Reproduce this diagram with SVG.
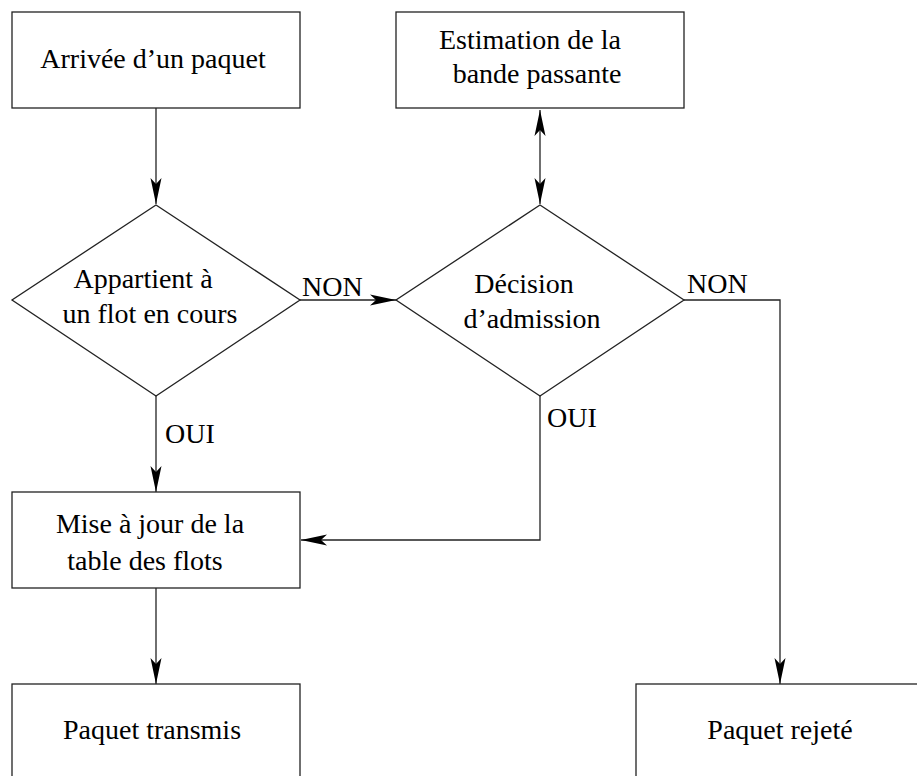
<svg xmlns="http://www.w3.org/2000/svg" width="917" height="776" viewBox="0 0 917 776" font-family="Liberation Serif, DejaVu Serif, serif" font-size="28">
  <defs>
    <marker id="arrow" viewBox="-28 -7 30 14" refX="0" refY="0" markerWidth="30" markerHeight="14" markerUnits="userSpaceOnUse" orient="auto-start-reverse">
      <path d="M0,0 L-26,-5.5 L-20,0 L-26,5.5 Z" fill="#000"/>
    </marker>
  </defs>
  <style>
    .shape { fill: #fff; stroke: #222; stroke-width: 1.3; }
    .link { fill: none; stroke: #222; stroke-width: 1.3; }
    .c { text-anchor: middle; }
  </style>
  <rect width="917" height="776" fill="#fff"/>

  <!-- connectors -->
  <g id="connectors">
    <path class="link" d="M156,108 V204" marker-end="url(#arrow)"/>
    <path class="link" d="M540,110 V204" marker-start="url(#arrow)" marker-end="url(#arrow)"/>
    <path class="link" d="M300,300 H396" marker-end="url(#arrow)"/>
    <path class="link" d="M684,300 H780 V684" marker-end="url(#arrow)"/>
    <path class="link" d="M156,396 V492" marker-end="url(#arrow)"/>
    <path class="link" d="M540,396 V540 H301" marker-end="url(#arrow)"/>
    <path class="link" d="M156,588 V684" marker-end="url(#arrow)"/>
    <text x="302" y="296">NON</text>
    <text x="687" y="293">NON</text>
    <text x="165" y="443">OUI</text>
    <text x="547" y="427">OUI</text>
  </g>

  <!-- nodes -->
  <g id="arrivee">
    <rect class="shape" x="12" y="12" width="288" height="96"/>
    <text class="c" x="153" y="68">Arrivée d’un paquet</text>
  </g>
  <g id="estimation">
    <rect class="shape" x="396" y="12" width="288" height="96"/>
    <text class="c" x="530" y="49">Estimation de la</text>
    <text class="c" x="537" y="83">bande passante</text>
  </g>
  <g id="appartient">
    <polygon class="shape" points="156,205 300,300 156,396 12,300"/>
    <text class="c" x="143" y="288">Appartient à</text>
    <text class="c" x="150" y="323">un flot en cours</text>
  </g>
  <g id="decision">
    <polygon class="shape" points="540,205 684,300 540,396 396,300"/>
    <text class="c" x="524" y="293">Décision</text>
    <text class="c" x="532" y="328">d’admission</text>
  </g>
  <g id="mise-a-jour">
    <rect class="shape" x="12" y="492" width="288" height="96"/>
    <text class="c" x="150" y="533">Mise à jour de la</text>
    <text class="c" x="145" y="570">table des flots</text>
  </g>
  <g id="transmis">
    <rect class="shape" x="12" y="684" width="288" height="110"/>
    <text class="c" x="152" y="739">Paquet transmis</text>
  </g>
  <g id="rejete">
    <rect class="shape" x="636" y="684" width="288" height="110"/>
    <text class="c" x="780" y="739">Paquet rejeté</text>
  </g>
</svg>
